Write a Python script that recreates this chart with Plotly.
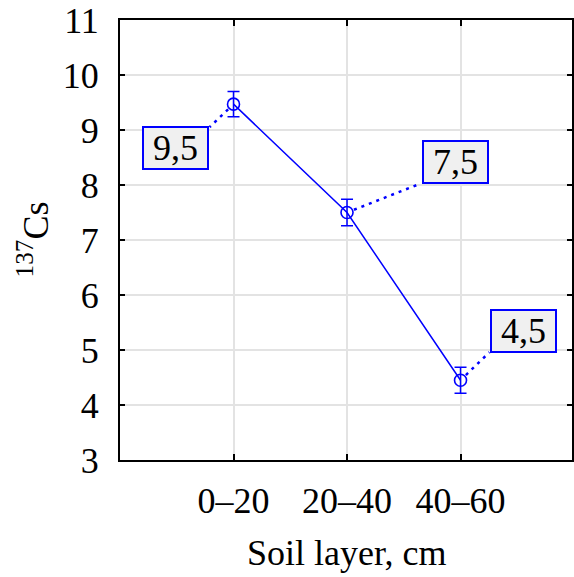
import plotly.graph_objects as go

categories = ["0–20", "20–40", "40–60"]
means = [9.47, 7.50, 4.45]
errors = [0.23, 0.24, 0.235]
labels = ["9,5", "7,5", "4,5"]
# label box offsets (pixels, right / down) and leader-line corner offsets
label_dx = [-58, 108, 63]
label_dy = [44, -51, -49]
corner_dx = [-24, 74, 29]
corner_dy = [23, -29, -28]

y_ticks = list(range(3, 12))

W, H = 574, 577
ML, MR, MT, MB = 120, 0, 20, 117
XRANGE = [-1, 2.982]
YRANGE = [3, 11]
pw = W - ML - MR
ph = H - MT - MB
px_x = pw / (XRANGE[1] - XRANGE[0])
px_y = ph / (YRANGE[1] - YRANGE[0])

FONT = "Liberation Serif"
BLUE = "#0000ff"
xs = list(range(len(categories)))

fig = go.Figure()
fig.add_trace(go.Scatter(
    x=xs, y=means, mode="lines+markers",
    line=dict(color=BLUE, width=1.5),
    marker=dict(symbol="circle-open", size=12, color=BLUE, line=dict(width=1.6, color=BLUE)),
    error_y=dict(type="data", array=errors, visible=True, color=BLUE, thickness=1.5, width=6),
    showlegend=False, hoverinfo="skip",
))

shapes = []
annotations = []
r = 7.5
for xi, yi, lab, ldx, ldy, cdx, cdy in zip(xs, means, labels, label_dx, label_dy, corner_dx, corner_dy):
    d = (cdx ** 2 + cdy ** 2) ** 0.5
    sx, sy = cdx / d * r, cdy / d * r
    shapes.append(dict(
        type="line", xref="x", yref="y",
        x0=xi + sx / px_x, y0=yi - sy / px_y,
        x1=xi + cdx / px_x, y1=yi - cdy / px_y,
        line=dict(color=BLUE, width=2.5, dash="3px,5px"),
    ))
    annotations.append(dict(
        x=xi, y=yi, xref="x", yref="y", text="\u00a0" + lab + "\u00a0", showarrow=False,
        xshift=ldx, yshift=-ldy, xanchor="center", yanchor="middle",
        font=dict(family=FONT, size=36, color="black"),
        bgcolor="#f0f0f0", bordercolor=BLUE, borderwidth=2, borderpad=0,
    ))

annotations.append(dict(
    x=(348 - ML) / pw, y=(MT + ph - 553) / ph, xref="paper", yref="paper",
    text="Soil layer, cm", showarrow=False, xanchor="center", yanchor="middle",
    font=dict(family=FONT, size=36, color="black"),
))
annotations.append(dict(
    x=(34 - ML) / pw, y=(MT + ph - 239) / ph, xref="paper", yref="paper",
    text="<sup>137</sup>Cs", showarrow=False, xanchor="center", yanchor="middle",
    textangle=-90,
    font=dict(family=FONT, size=36, color="black"),
))

fig.update_layout(
    width=W, height=H,
    margin=dict(l=ML, r=MR, t=MT, b=MB),
    paper_bgcolor="white", plot_bgcolor="white",
    shapes=shapes, annotations=annotations,
    xaxis=dict(
        range=XRANGE, tickvals=xs, ticktext=categories,
        showgrid=True, gridcolor="#e3e3e3", gridwidth=1.5,
        showline=True, linecolor="black", linewidth=2, mirror="ticks",
        ticks="inside", ticklen=6, tickwidth=2, tickcolor="black",
        ticklabelstandoff=8,
        tickfont=dict(family=FONT, size=36, color="black"),
        zeroline=False,
    ),
    yaxis=dict(
        range=YRANGE, tickvals=y_ticks,
        showgrid=True, gridcolor="#e3e3e3", gridwidth=1.5,
        showline=True, linecolor="black", linewidth=2, mirror="ticks",
        ticks="inside", ticklen=5, tickwidth=2, tickcolor="black",
        ticklabelstandoff=12,
        tickfont=dict(family=FONT, size=36, color="black"),
        zeroline=False,
    ),
)

fig.write_html("out.html")
